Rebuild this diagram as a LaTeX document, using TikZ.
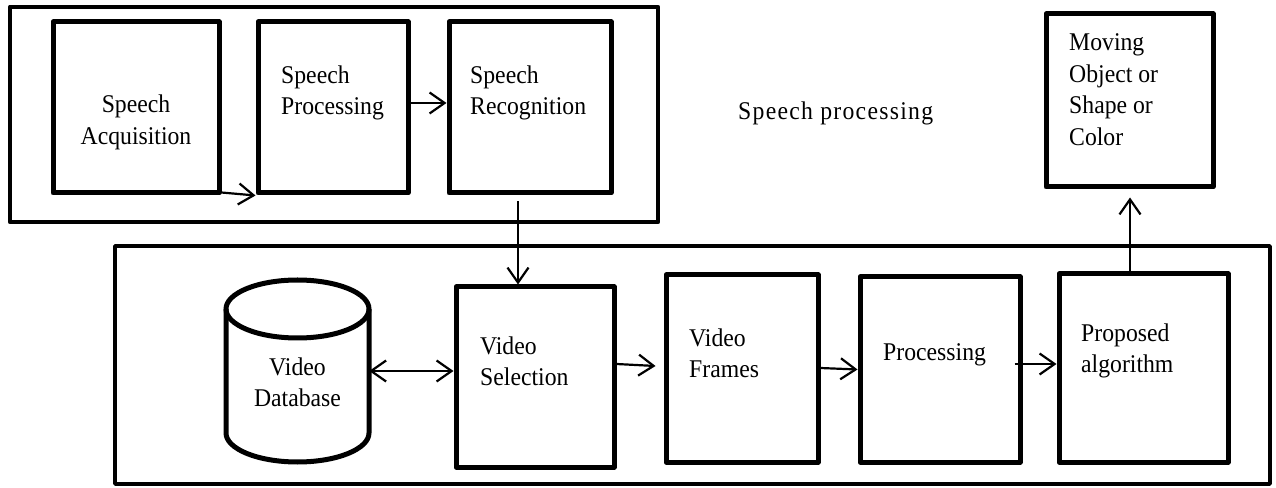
\documentclass[tikz,border=0pt]{standalone}
\usepackage{fontspec}
\setmainfont{Liberation Serif}[FakeStretch=0.93]
\usetikzlibrary{arrows.meta}
\begin{document}
\begin{tikzpicture}[x=1pt,y=1pt,
  every node/.style={font=\fontsize{25.5}{31.5}\selectfont, inner sep=0pt},
  blk/.style={draw, line width=5pt, line join=round, minimum height=171pt},
  frame/.style={draw, line width=4.8pt, line join=round},
  txt/.style={anchor=west, align=left},
  arr/.style={line width=2.2pt, -{Straight Barb[length=15pt,width=21pt,line width=2.2pt]}},
  darr/.style={line width=2.2pt, {Straight Barb[length=15pt,width=21pt,line width=2.2pt]}-{Straight Barb[length=15pt,width=21pt,line width=2.2pt]}}]
\useasboundingbox (0,0) rectangle (1276,487);
% outer frames
\node[frame, minimum width=648pt, minimum height=215pt] (top) at (334,372.5) {};
\node[draw, line width=3.6pt, line join=round, minimum width=1155pt, minimum height=238pt] (bot) at (692.5,122) {};
% speech boxes
\node[blk, minimum width=166pt] (sa) at (136,379.5) {};
\node[blk, minimum width=150pt] (sp) at (333,379.5) {};
\node[blk, minimum width=162pt] (sr) at (530,379.5) {};
\node[align=center] (saT) at (136,364.5) {Speech\\Acquisition};
\node[txt] (spT) at (281,394) {Speech\\Processing};
\node[txt] (srT) at (470,394) {Speech\\Recognition};
\node[anchor=west] (lbl) at (738,374) {\addfontfeature{LetterSpace=5}Speech processing};
% moving box
\node[blk, minimum width=167pt, minimum height=173pt] (mv) at (1129.5,386.5) {};
\node[txt] (mvT) at (1069,397.5) {Moving\\Object or\\Shape or\\Color};
% database cylinder
\node[minimum width=143pt, minimum height=182pt] (db) at (297.5,116) {};
\draw[line width=5pt, line join=round]
  (297.5,178) ellipse [x radius=71.5pt, y radius=29pt];
\draw[line width=5pt, line join=round]
  (226,178) -- (226,54) arc[start angle=180, end angle=360, x radius=71.5pt, y radius=29pt] -- (369,178);
\node[align=center] (dbT) at (297.5,104.5) {Video\\Database};
% video boxes
\node[blk, minimum width=158pt, minimum height=180pt] (vs) at (535,110) {};
\node[blk, minimum width=152pt, minimum height=187pt] (vf) at (742,118.5) {};
\node[blk, minimum width=160pt, minimum height=185pt] (pr) at (940,117.5) {};
\node[blk, minimum width=169pt, minimum height=188pt] (pa) at (1143.5,119) {};
\node[txt] (vsT) at (480,125.5) {Video\\Selection};
\node[txt] (vfT) at (689,133.5) {Video\\Frames};
\node[txt] (prT) at (883,132) {Processing};
\node[txt] (paT) at (1081,136) {Proposed\\algorithm};
% connectors
\draw[arr] ([yshift=3pt]sa.south east) -- (sp.south west);
\draw[arr] ([yshift=4.5pt]sp.east) -- ([yshift=4.5pt]sr.west);
\draw[arr] ([xshift=-12pt,yshift=-6pt]sr.south) -- ([xshift=-17pt]vs.north);
\draw[darr] (db.east) -- (db.east -| vs.west);
\draw[arr] ([yshift=13pt]vs.east) -- ([xshift=-8pt,yshift=2.5pt]vf.west);
\draw[arr] ([yshift=0.5pt]vf.east) -- (pr.west);
\draw[arr] ([xshift=-8pt,yshift=5.5pt]pr.east) -- ([yshift=4pt]pa.west);
\draw[arr] ([xshift=-13.5pt]pa.north) -- ([xshift=0.5pt,yshift=-8pt]mv.south);
\end{tikzpicture}
\end{document}
